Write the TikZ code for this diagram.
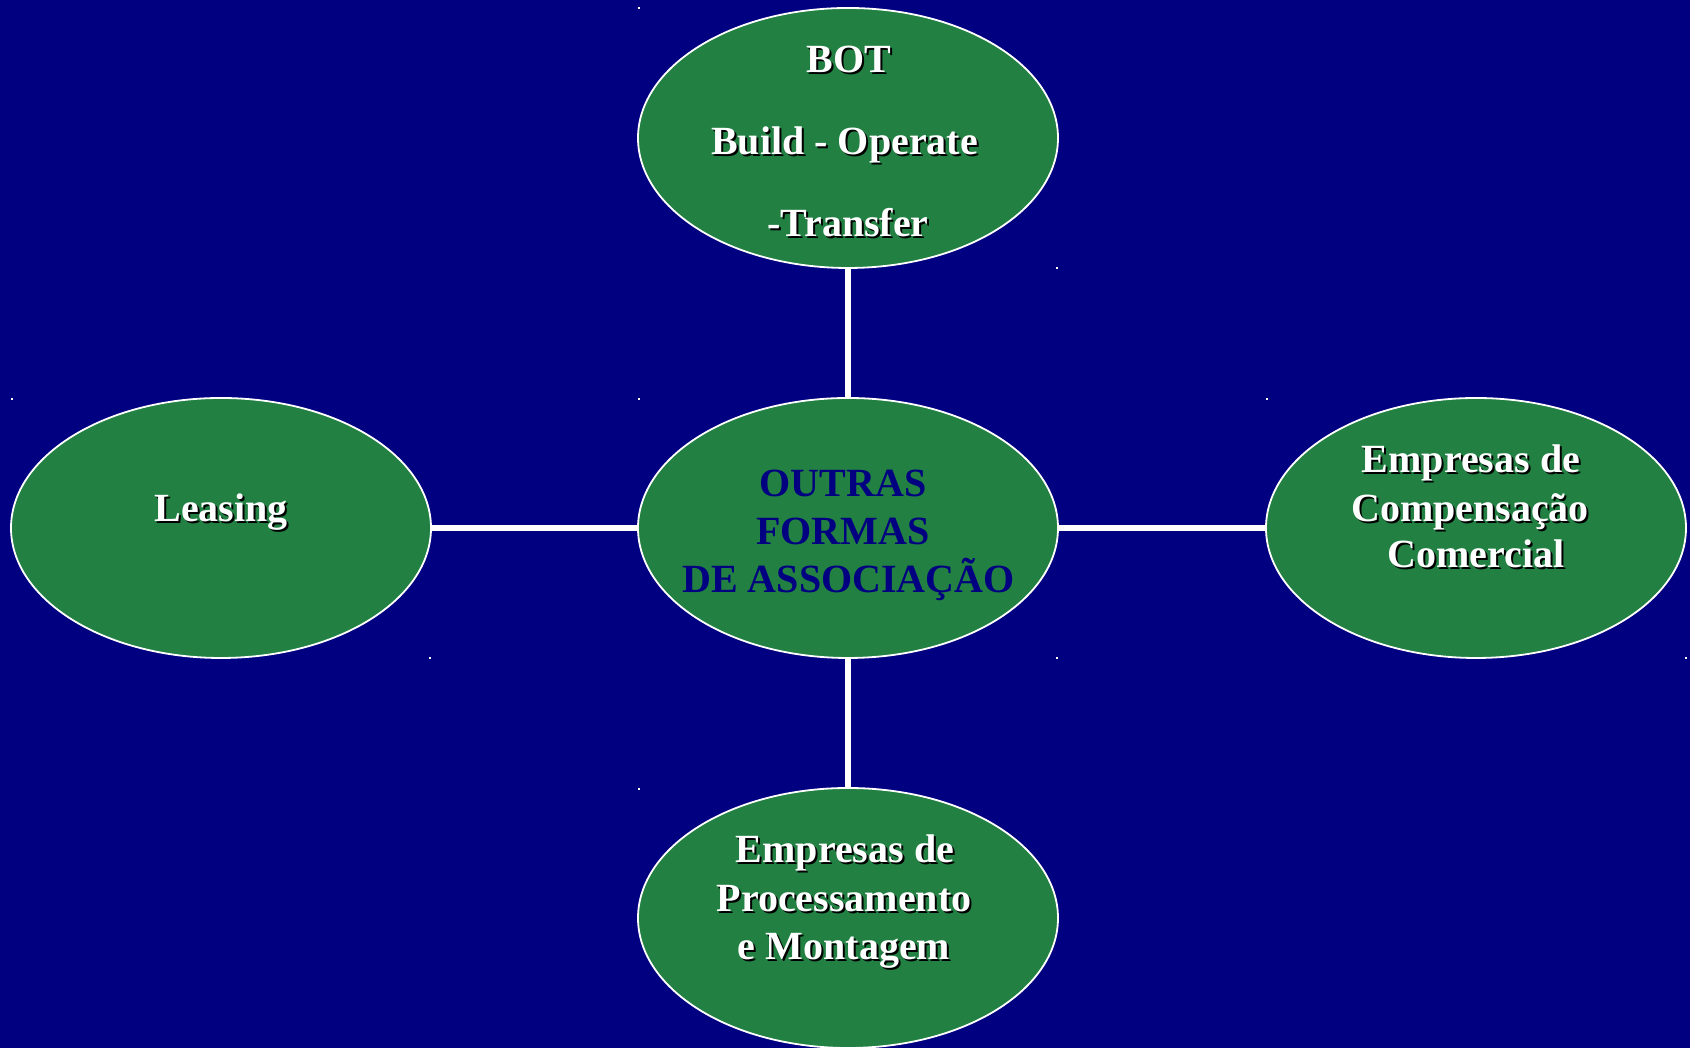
\documentclass[tikz,border=0pt]{standalone}
\usepackage{fontspec}
\setmainfont{Liberation Serif}
\usetikzlibrary{shapes.geometric}
\definecolor{navybg}{RGB}{0,0,128}
\definecolor{ovalgreen}{RGB}{33,128,66}
\begin{document}
\begin{tikzpicture}[x=1pt,y=1pt,
  oval/.style={ellipse,draw=white,line width=1.8pt,fill=ovalgreen,minimum width=420pt,minimum height=260pt,inner sep=0pt},
  link/.style={draw=white,line width=6pt},
  wtxt/.style={anchor=base,inner sep=0pt,text=white,font=\fontsize{40}{40}\selectfont\bfseries},
  btxt/.style={anchor=base,inner sep=0pt,text=black,font=\fontsize{40}{40}\selectfont\bfseries},
  ntxt/.style={anchor=base,inner sep=0pt,text=navybg,font=\fontsize{40}{40}\selectfont\bfseries},
  speck/.style={fill=white,inner sep=0pt,minimum size=2pt}]
\fill[navybg] (0,0) rectangle (1690,1048);
\useasboundingbox (0,0) rectangle (1690,1048);
% ovals
\node[oval] (top) at (848,910) {};
\node[oval] (mid) at (848,520) {};
\node[oval] (lft) at (221,520) {};
\node[oval] (rgt) at (1476,520) {};
\node[oval] (bot) at (848,130) {};
% connectors
\draw[link] (top.south) -- (mid.north);
\draw[link] (mid.south) -- (bot.north);
\draw[link] (lft.east) -- (mid.west);
\draw[link] (mid.east) -- (rgt.west);
% specks
\node[speck] (s1) at (639,1040) {};
\node[speck] (s2) at (1057,780) {};
\node[speck] (s3) at (12,649) {};
\node[speck] (s4) at (639,649) {};
\node[speck] (s5) at (1267,649) {};
\node[speck] (s6) at (430,390) {};
\node[speck] (s7) at (1057,390) {};
\node[speck] (s8) at (1686,390) {};
\node[speck] (s9) at (639,259) {};
% top text
\node[btxt] (t1s) at (851,973) {BOT};
\node[wtxt] (t1) at (849,975) {BOT};
\node[btxt] (t2s) at (846.5,891) {Build - Operate};
\node[wtxt] (t2) at (844.5,893) {Build - Operate};
\node[btxt] (t3s) at (850,809) {-Transfer};
\node[wtxt] (t3) at (848,811) {-Transfer};
% center text
\node[ntxt] (m1) at (843,551) {OUTRAS};
\node[ntxt] (m2) at (843,503) {FORMAS};
\node[ntxt] (m3) at (848.5,455) {DE ASSOCIAÇÃO};
% left text
\node[btxt] (l1s) at (223,524) {Leasing};
\node[wtxt] (l1) at (221,526) {Leasing};
% right text
\node[btxt] (r1s) at (1473,573) {Empresas de};
\node[wtxt] (r1) at (1471,575) {Empresas de};
\node[btxt] (r2s) at (1472,524) {Compensação};
\node[wtxt] (r2) at (1470,526) {Compensação};
\node[btxt] (r3s) at (1478,478) {Comercial};
\node[wtxt] (r3) at (1476,480) {Comercial};
% bottom text
\node[btxt] (b1s) at (847,183) {Empresas de};
\node[wtxt] (b1) at (845,185) {Empresas de};
\node[btxt] (b2s) at (846,134) {Processamento};
\node[wtxt] (b2) at (844,136) {Processamento};
\node[btxt] (b3s) at (846,86) {e Montagem};
\node[wtxt] (b3) at (844,88) {e Montagem};
\end{tikzpicture}
\end{document}
